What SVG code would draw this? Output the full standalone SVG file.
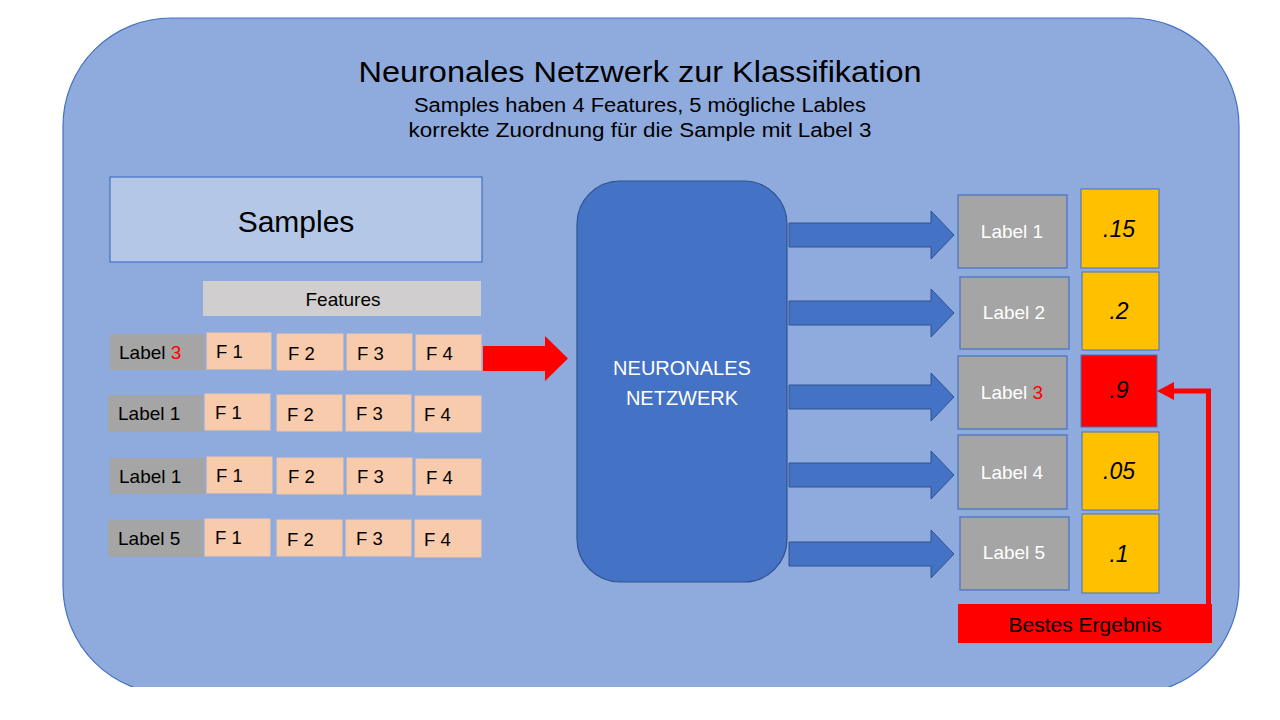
<svg xmlns="http://www.w3.org/2000/svg" width="1280" height="720" viewBox="0 0 1280 720">
<defs>
<style>
text{font-family:"Liberation Sans",Arial,sans-serif}
.bg{fill:#8faadc;stroke:#4472c4;stroke-width:1.2}
.lab{fill:#a5a5a5}
.f{fill:#f8cbad;stroke:#f4c7a8;stroke-width:1}
.t19{font-size:19px;fill:#000}
.t18{font-size:18.5px;fill:#000}
.olab{fill:#a5a5a5;stroke:#4472c4;stroke-width:1.2}
.val{fill:#ffc000;stroke:#4472c4;stroke-width:1}
.wt{font-size:19px;fill:#fff;text-anchor:middle}
.vt{font-size:23px;font-style:italic;fill:#000;text-anchor:middle}
.barrow{fill:#4472c4;stroke:#2f528f;stroke-width:1}
</style>
<clipPath id="clip"><rect x="0" y="0" width="1280" height="687"/></clipPath>
</defs>
<rect x="0" y="0" width="1280" height="720" fill="#ffffff"/>
<g id="background" clip-path="url(#clip)">
<rect class="bg" x="63" y="18" width="1176" height="676" rx="108" ry="108"/>
</g>
<g id="title">
<text x="640" y="82" font-size="30" text-anchor="middle" textLength="563" lengthAdjust="spacingAndGlyphs">Neuronales Netzwerk zur Klassifikation</text>
<text x="640" y="112" font-size="20" text-anchor="middle" textLength="452" lengthAdjust="spacingAndGlyphs">Samples haben 4 Features, 5 mögliche Lables</text>
<text x="640" y="137" font-size="20" text-anchor="middle" textLength="463" lengthAdjust="spacingAndGlyphs">korrekte Zuordnung für die Sample mit Label 3</text>
</g>
<g id="samples">
<rect x="110" y="177" width="372" height="85" fill="#b4c7e7" stroke="#4472c4" stroke-width="1.2"/>
<text x="296" y="232" font-size="30" text-anchor="middle">Samples</text>
</g>
<g id="features">
<rect x="203" y="281" width="278" height="35" fill="#d0cece"/>
<text x="343" y="306" font-size="19" text-anchor="middle">Features</text>
</g>
<g id="row1">
<rect class="lab" x="110" y="334" width="95" height="36"/>
<text class="t19" x="119" y="359">Label <tspan fill="#ff0000">3</tspan></text>
<rect class="f" x="207" y="333" width="64" height="36"/><text class="t18" x="216" y="358">F 1</text>
<rect class="f" x="277" y="334" width="66" height="36"/><text class="t18" x="288" y="360">F 2</text>
<rect class="f" x="347" y="334" width="65" height="36"/><text class="t18" x="357" y="360">F 3</text>
<rect class="f" x="416" y="335" width="65" height="35"/><text class="t18" x="426" y="360">F 4</text>
</g>
<g id="row2">
<rect class="lab" x="108" y="395" width="95" height="37"/>
<text class="t19" x="118" y="420">Label 1</text>
<rect class="f" x="205" y="394" width="65" height="36"/><text class="t18" x="215" y="419">F 1</text>
<rect class="f" x="277" y="395" width="65" height="36"/><text class="t18" x="287" y="421">F 2</text>
<rect class="f" x="346" y="395" width="65" height="36"/><text class="t18" x="356" y="420">F 3</text>
<rect class="f" x="415" y="396" width="66" height="36"/><text class="t18" x="424" y="421">F 4</text>
</g>
<g id="row3">
<rect class="lab" x="110" y="458" width="95" height="36"/>
<text class="t19" x="119" y="483">Label 1</text>
<rect class="f" x="207" y="457" width="65" height="36"/><text class="t18" x="216" y="482">F 1</text>
<rect class="f" x="277" y="458" width="66" height="36"/><text class="t18" x="288" y="483">F 2</text>
<rect class="f" x="347" y="458" width="65" height="36"/><text class="t18" x="357" y="483">F 3</text>
<rect class="f" x="416" y="459" width="65" height="36"/><text class="t18" x="426" y="484">F 4</text>
</g>
<g id="row4">
<rect class="lab" x="108" y="520" width="95" height="37"/>
<text class="t19" x="118" y="545">Label 5</text>
<rect class="f" x="205" y="519" width="65" height="37"/><text class="t18" x="215" y="544">F 1</text>
<rect class="f" x="277" y="520" width="65" height="36"/><text class="t18" x="287" y="546">F 2</text>
<rect class="f" x="346" y="520" width="65" height="36"/><text class="t18" x="356" y="545">F 3</text>
<rect class="f" x="415" y="520" width="66" height="37"/><text class="t18" x="424" y="546">F 4</text>
</g>
<g id="network">
<rect x="577" y="181" width="210" height="401" rx="43" ry="43" fill="#4472c4" stroke="#2f528f" stroke-width="1.2"/>
<text x="682" y="375" font-size="20" fill="#ffffff" text-anchor="middle">NEURONALES</text>
<text x="682" y="405" font-size="20" fill="#ffffff" text-anchor="middle">NETZWERK</text>
</g>
<g id="label1"><rect class="olab" x="958" y="195" width="109" height="73"/><text class="wt" x="1012" y="238">Label 1</text></g>
<g id="label2"><rect class="olab" x="960" y="277" width="109" height="72"/><text class="wt" x="1014" y="319">Label 2</text></g>
<g id="label3"><rect class="olab" x="958" y="356" width="109" height="73"/><text class="wt" x="1012" y="399">Label <tspan fill="#ff0000">3</tspan></text></g>
<g id="label4"><rect class="olab" x="958" y="435" width="109" height="74"/><text class="wt" x="1012" y="479">Label 4</text></g>
<g id="label5"><rect class="olab" x="960" y="517" width="109" height="73"/><text class="wt" x="1014" y="559">Label 5</text></g>
<g id="value1"><rect class="val" x="1081" y="189" width="78" height="79"/><text class="vt" x="1119" y="237">.15</text></g>
<g id="value2"><rect class="val" x="1082" y="272" width="77" height="78"/><text class="vt" x="1119" y="319">.2</text></g>
<g id="value3"><rect x="1081" y="355" width="76" height="72" fill="#ff0000" stroke="#4472c4" stroke-width="1"/><text class="vt" x="1119" y="398">.9</text></g>
<g id="value4"><rect class="val" x="1082" y="432" width="77" height="78"/><text class="vt" x="1119" y="479">.05</text></g>
<g id="value5"><rect class="val" x="1082" y="514" width="77" height="79"/><text class="vt" x="1119" y="562">.1</text></g>
<g id="best">
<rect x="958" y="604" width="254" height="39" fill="#ff0000"/>
<text x="1085" y="632" font-size="21" text-anchor="middle">Bestes Ergebnis</text>
</g>
<g id="connectors">
<path d="M483,346 H545 V336 L568,358.5 L545,381 V371 H483 Z" fill="#ff0000"/>
<path class="barrow" d="M789,223 H931 V211 L954,235 L931,259 V247 H789 Z"/>
<path class="barrow" d="M789,301 H931 V289 L954,313 L931,337 V325 H789 Z"/>
<path class="barrow" d="M789,385 H931 V373 L954,397 L931,421 V409 H789 Z"/>
<path class="barrow" d="M789,463 H931 V451 L954,475 L931,499 V487 H789 Z"/>
<path class="barrow" d="M789,542 H931 V530 L954,554 L931,578 V566 H789 Z"/>
<path d="M1208.5,606 V391 H1172" fill="none" stroke="#ff0000" stroke-width="5"/>
<path d="M1157,391 L1174,382 L1174,400 Z" fill="#ff0000"/>
</g>
</svg>
